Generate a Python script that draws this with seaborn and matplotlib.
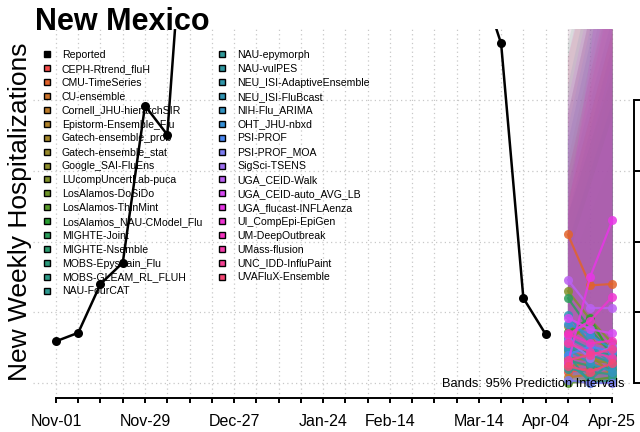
import numpy as np
import pandas as pd
import matplotlib
matplotlib.use("Agg")
import matplotlib.pyplot as plt
import matplotlib.dates as mdates
from matplotlib.lines import Line2D
import seaborn as sns

# ---------------- data ----------------
week_dates = pd.date_range("2025-11-01", periods=26, freq="7D")
label_dates = ["2025-11-01", "2025-11-29", "2025-12-27", "2026-01-24",
               "2026-02-14", "2026-03-14", "2026-04-04", "2026-04-25"]
label_text = ["Nov-01", "Nov-29", "Dec-27", "Jan-24",
              "Feb-14", "Mar-14", "Apr-04", "Apr-25"]

reported_values = [29.5, 35.5, 70.0, 85.0, 196.0, 175.5, 390.0, 520.0, 610.0,
                   640.0, 580.0, 500.0, 450.0, 410.0, 380.0, 350.0, 330.0,
                   310.0, 300.0, 288.0, 240.0, 60.0, 34.5]

forecast_dates = ["2026-04-11", "2026-04-18", "2026-04-25"]

models = ["CEPH-Rtrend_fluH", "CMU-TimeSeries", "CU-ensemble",
          "Cornell_JHU-hierarchSIR", "Epistorm-Ensemble_Flu",
          "Gatech-ensemble_prob", "Gatech-ensemble_stat", "Google_SAI-FluEns",
          "LUcompUncertLab-puca", "LosAlamos-DoSiDo", "LosAlamos-ThinMint",
          "LosAlamos_NAU-CModel_Flu", "MIGHTE-Joint", "MIGHTE-Nsemble",
          "MOBS-Epystrain_Flu", "MOBS-GLEAM_RL_FLUH", "NAU-FourCAT",
          "NAU-epymorph", "NAU-vulPES", "NEU_ISI-AdaptiveEnsemble",
          "NEU_ISI-FluBcast", "NIH-Flu_ARIMA", "OHT_JHU-nbxd", "PSI-PROF",
          "PSI-PROF_MOA", "SigSci-TSENS", "UGA_CEID-Walk",
          "UGA_CEID-auto_AVG_LB", "UGA_flucast-INFLAenza",
          "UI_CompEpi-EpiGen", "UM-DeepOutbreak", "UMass-flusion",
          "UNC_IDD-InfluPaint", "UVAFluX-Ensemble"]

median_h1 = [8, 105, 12, 4, 22, 40, 28, 18, 65, 30, 0, 36, 60, 24, 16, 20, 10,
             14, 26, 32, 48, 24, 42, 20, 2, 30, 73, 46, 14, 34, 35, 28, 16, 12]
median_h2 = [10, 69, 14, 6, 18, 30, 20, 16, 45, 42, 2, 46, 38, 22, 12, 0, 8,
             2, 20, 24, 28, 14, 34, 26, 0, 18, 53, 38, 75, 44, 28, 22, 20, 8]
median_h3 = [12, 70, 10, 8, 15, 25, 6, 14, 28, 22, 4, 18, 20, 20, 10, 2, 6,
             16, 14, 18, 12, 8, 24, 22, 0, 26, 53, 35, 115, 61, 30, 18, 24, 14]

lower_h1 = [0, 40, 0, 0, 5, 10, 4, 2, 20, 6, 0, 8, 15, 4, 2, 3, 0,
            0, 5, 8, 12, 4, 10, 3, 0, 6, 25, 12, 0, 8, 10, 6, 2, 0]
lower_h2 = [0, 15, 0, 0, 2, 5, 0, 0, 8, 6, 0, 8, 6, 2, 0, 0, 0,
            0, 2, 4, 4, 0, 6, 4, 0, 2, 12, 8, 10, 8, 4, 2, 2, 0]
lower_h3 = [0, 8, 0, 0, 0, 2, 0, 0, 2, 0, 0, 0, 0, 0, 0, 0, 0,
            0, 0, 0, 0, 0, 2, 0, 0, 2, 6, 4, 15, 6, 2, 0, 0, 0]

upper_h1 = [120, 230, 100, 150, 160, 190, 120, 110, 260, 150, 80, 170, 240,
            130, 140, 100, 120, 110, 130, 190, 210, 120, 180, 140, 90, 170,
            270, 200, 120, 230, 190, 150, 140, 130]
upper_h2 = [180, 290, 150, 210, 230, 260, 170, 160, 320, 220, 120, 240, 300,
            190, 200, 150, 170, 160, 190, 260, 280, 180, 250, 210, 140, 240,
            340, 270, 230, 300, 260, 220, 210, 190]
upper_h3 = [240, 350, 200, 270, 300, 330, 220, 210, 380, 280, 160, 310, 360,
            250, 260, 200, 230, 220, 250, 330, 350, 240, 320, 280, 190, 310,
            400, 340, 360, 370, 330, 290, 280, 250]

y_ticks = [0, 50, 100, 150, 200]

# ---------------- style ----------------
sns.set_style("white")
plt.rcParams["font.family"] = ["Liberation Sans", "DejaVu Sans"]
for k in ["text.color", "axes.labelcolor", "xtick.color", "ytick.color",
          "axes.edgecolor"]:
    plt.rcParams[k] = "black"

colors = sns.husl_palette(len(models), h=0.035, s=0.9, l=0.58)

fig = plt.figure(figsize=(6.4, 4.32), dpi=100)
ax = fig.add_axes([33 / 640, 34 / 432, 601 / 640, 369 / 432])

fdates = pd.to_datetime(forecast_dates)

# prediction bands
for i, m in enumerate(models):
    ax.fill_between(fdates, [lower_h1[i], lower_h2[i], lower_h3[i]],
                    [upper_h1[i], upper_h2[i], upper_h3[i]],
                    color=colors[i], alpha=0.1, linewidth=0, zorder=2)

# forecast medians
fc = pd.DataFrame({
    "model": np.repeat(models, 3),
    "date": np.tile(fdates, len(models)),
    "value": np.ravel(np.column_stack([median_h1, median_h2, median_h3])),
})
sns.lineplot(data=fc, x="date", y="value", hue="model", hue_order=models,
             palette=colors, marker="o", markersize=6.5, markeredgewidth=0,
             linewidth=1.6, alpha=0.85, errorbar=None, legend=False,
             ax=ax, zorder=3)

# reported
rep = pd.DataFrame({"date": week_dates[:len(reported_values)],
                    "value": reported_values})
sns.lineplot(data=rep, x="date", y="value", color="black", marker="o",
             markersize=6.5, markeredgewidth=0, linewidth=1.8,
             errorbar=None, ax=ax, zorder=4)

# axes limits
x0 = week_dates[0]
ax.set_xlim(x0 - pd.Timedelta(days=7.23), x0 + pd.Timedelta(days=181.8))
ax.set_ylim(-10.6, 250.2)

ax.set_xticks(week_dates)
lab_map = dict(zip(pd.to_datetime(label_dates), label_text))
ax.set_xticklabels([lab_map.get(d, "") for d in week_dates], fontsize=11.5)
ax.yaxis.tick_right()
ax.set_yticks(y_ticks)
ax.set_yticklabels([])
ax.set_xlabel("")
ax.set_ylabel("")

ax.tick_params(axis="x", direction="out", length=3.5, width=1.4, pad=8,
               bottom=True, colors="black")
ax.tick_params(axis="y", direction="out", length=4.5, width=1.4, right=True,
               left=False, colors="black")

for s in ["left", "top"]:
    ax.spines[s].set_visible(False)
ax.spines["bottom"].set_linewidth(1.4)
ax.spines["right"].set_linewidth(1.4)
ax.spines["bottom"].set_bounds(mdates.date2num(week_dates[0]),
                               mdates.date2num(week_dates[-1]))
ax.spines["right"].set_bounds(0, 200)

ax.grid(True, color="#C8C8C8", linestyle=(0, (1, 2.5)), linewidth=0.9)
ax.set_axisbelow(True)

# legend
handles = [Line2D([], [], marker="s", ls="none", markersize=5,
                  markerfacecolor="black", markeredgecolor="black",
                  markeredgewidth=1.0)]
for c in colors:
    handles.append(Line2D([], [], marker="s", ls="none", markersize=5,
                          markerfacecolor=c, markeredgecolor="black",
                          markeredgewidth=1.0))
labels = ["Reported"] + models
leg = ax.legend(handles, labels, loc="upper left",
                bbox_to_anchor=(43 / 640, 1 - 50 / 432),
                bbox_transform=fig.transFigure, ncol=2, frameon=False,
                fontsize=7.6, handlelength=0.8, handletextpad=1.0,
                columnspacing=1.5, labelspacing=0.37, borderpad=0,
                borderaxespad=0)
leg.set_zorder(1)

ax.text(624 / 640, 1 - 387 / 432, "Bands: 95% Prediction Intervals",
        transform=fig.transFigure, ha="right", va="baseline",
        fontsize=9.3, zorder=10)

fig.text(35 / 640, 1 - 30 / 432, "New Mexico", fontsize=22,
         fontweight="bold", ha="left", va="baseline")
fig.text(20 / 640, 1 - 212 / 432, "New Weekly Hospitalizations",
         fontsize=19, rotation=90, ha="center", va="center")

fig.savefig("out.png", dpi=100)
